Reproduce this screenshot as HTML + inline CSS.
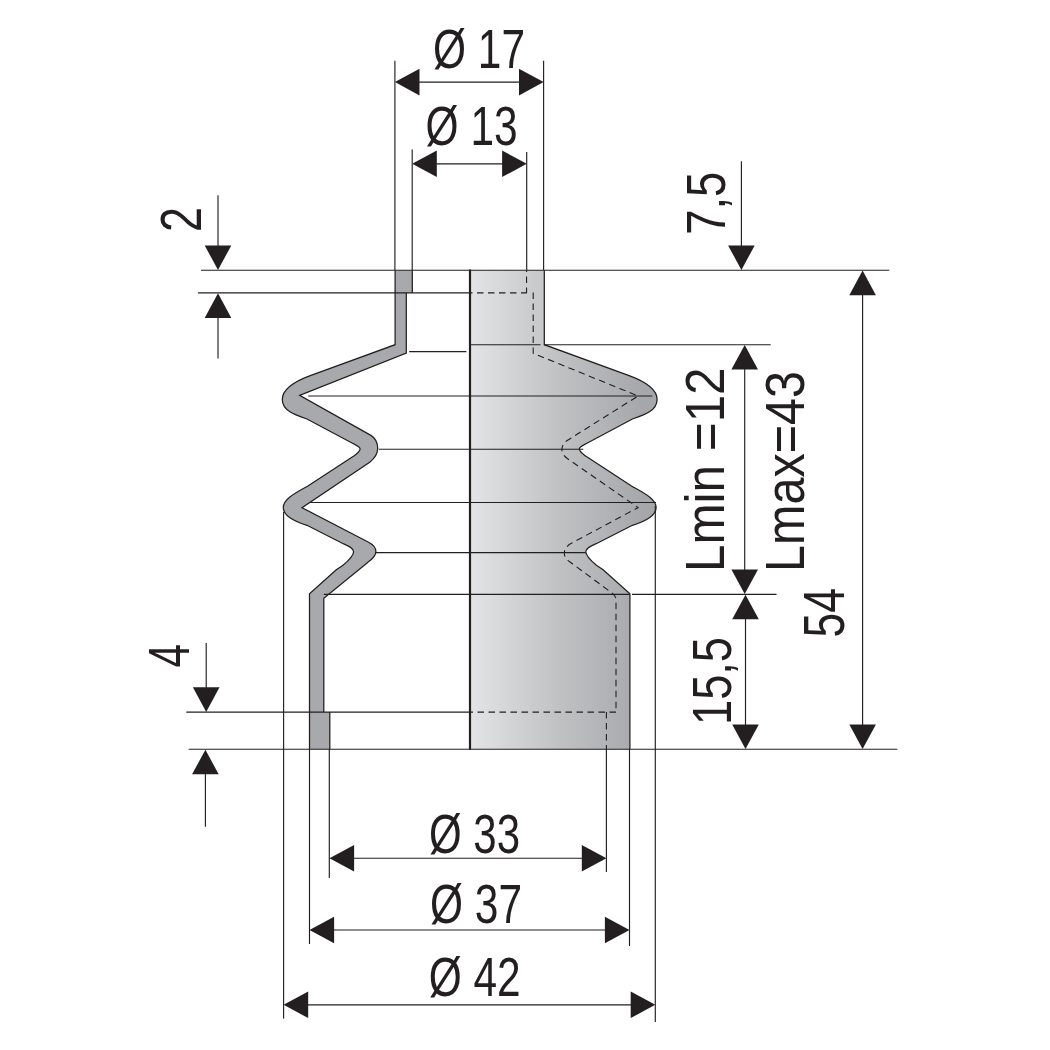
<!DOCTYPE html>
<html><head><meta charset="utf-8"><title>Bellows drawing</title>
<style>html,body{margin:0;padding:0;background:#fff}svg{display:block}text{font-family:"Liberation Sans",sans-serif}</style>
</head><body>
<svg width="1050" height="1050" viewBox="0 0 1050 1050">
<rect width="1050" height="1050" fill="#fff"/>
<defs>
<linearGradient id="gm" gradientUnits="userSpaceOnUse" x1="469.7" y1="0" x2="296" y2="0">
<stop offset="0" stop-color="#e3e4e5"/><stop offset="0.5" stop-color="#c1c2c4"/><stop offset="1" stop-color="#a5a7aa"/></linearGradient>
<path id="ah" d="M0,0 L24.6,-13.3 L24.6,13.3 Z"/>
</defs>
<g transform="translate(939.40,0) scale(-1,1)"><path d=" M395.1,270.2 L395.1,344.7 L310.3,375.6 C297,380.5 282.3,388 282.3,399.4 C282.3,411 296,415.2 307,419 L352,443 C357,445.6 360.1,446.6 360.1,448.9 C360.1,451.4 357.6,453.2 353,456.6 L308.3,485.7 C297,492.3 283.3,498.5 283.3,507.5 C283.3,516 294,521.3 307,525.3 L340.3,542.3 C346,545 353.6,547.2 353.6,551.7 C353.6,556 349,560.2 343,565.3 L336,570 L309.5,593.8 L309.5,749.2  L469.7,749.2 L469.7,270.2 Z" fill="url(#gm)" stroke="none"/><path d=" M395.1,270.2 L395.1,344.7 L310.3,375.6 C297,380.5 282.3,388 282.3,399.4 C282.3,411 296,415.2 307,419 L352,443 C357,445.6 360.1,446.6 360.1,448.9 C360.1,451.4 357.6,453.2 353,456.6 L308.3,485.7 C297,492.3 283.3,498.5 283.3,507.5 C283.3,516 294,521.3 307,525.3 L340.3,542.3 C346,545 353.6,547.2 353.6,551.7 C353.6,556 349,560.2 343,565.3 L336,570 L309.5,593.8 L309.5,749.2 " fill="none" stroke="#231f20" stroke-width="1.25" stroke-linejoin="miter"/></g>
<path d=" M395.1,270.2 L395.1,344.7 L310.3,375.6 C297,380.5 282.3,388 282.3,399.4 C282.3,411 296,415.2 307,419 L352,443 C357,445.6 360.1,446.6 360.1,448.9 C360.1,451.4 357.6,453.2 353,456.6 L308.3,485.7 C297,492.3 283.3,498.5 283.3,507.5 C283.3,516 294,521.3 307,525.3 L340.3,542.3 C346,545 353.6,547.2 353.6,551.7 C353.6,556 349,560.2 343,565.3 L336,570 L309.5,593.8 L309.5,749.2  L329.8,749.2 L329.8,712.1 L323.8,712.1 L323.8,598.2 L367.7,562.4 C371.5,559.5 375.9,556.5 375.9,551.7 C375.9,547 372.5,544.3 368.6,542.3 L302,507.7 L369.7,462.3 C374.3,458.6 377.7,454.5 377.7,448.6 C377.7,442.5 375.2,438 370.9,435.4 L299.6,395.3 L406.3,353 L406.3,292.9 L412.3,292.9 L412.3,270.2 Z " fill="#a7a9ac" stroke="none"/>
<path d=" M395.1,270.2 L395.1,344.7 L310.3,375.6 C297,380.5 282.3,388 282.3,399.4 C282.3,411 296,415.2 307,419 L352,443 C357,445.6 360.1,446.6 360.1,448.9 C360.1,451.4 357.6,453.2 353,456.6 L308.3,485.7 C297,492.3 283.3,498.5 283.3,507.5 C283.3,516 294,521.3 307,525.3 L340.3,542.3 C346,545 353.6,547.2 353.6,551.7 C353.6,556 349,560.2 343,565.3 L336,570 L309.5,593.8 L309.5,749.2   M329.8,749.2 L329.8,712.1 M323.8,712.1 L323.8,598.2 L367.7,562.4 C371.5,559.5 375.9,556.5 375.9,551.7 C375.9,547 372.5,544.3 368.6,542.3 L302,507.7 L369.7,462.3 C374.3,458.6 377.7,454.5 377.7,448.6 C377.7,442.5 375.2,438 370.9,435.4 L299.6,395.3 L406.3,353 L406.3,292.9 M412.3,292.9 L412.3,270.2 " fill="none" stroke="#231f20" stroke-width="1.25" stroke-linejoin="miter"/>
<g fill="none" stroke="#231f20" stroke-width="1.1" stroke-dasharray="6.5,4.5"><path d="M526.55,292.9 V270.2" stroke-dashoffset="1.2"/><path d="M526.7,292.9 H469.9" stroke-dashoffset="0.8"/><path d="M533.2,292.4 L533.2,353.3 L638.1,396 L568,440 Q561.9,444 561.9,449.5 Q561.9,455 568,459 L638.1,507.6 L570,544 Q564.3,548 564.3,553.3 Q564.3,558 570,562 L612,593 Q616,596 616,600 L616,712.1"/><path d="M616,712.1 H469.9"/><path d="M606.4,712.1 V749"/></g>
<path d="M201,270.2 H889.3" stroke="#231f20" stroke-width="1.15" fill="none"/>
<path d="M197.9,292.9 H469.9" stroke="#231f20" stroke-width="1.15" fill="none"/>
<path d="M409.2,351.6 H466.4" stroke="#231f20" stroke-width="1.15" fill="none"/>
<path d="M469.9,344.7 H540.5" stroke="#231f20" stroke-width="1.15" fill="none"/>
<path d="M544.3,344.7 H770.7" stroke="#231f20" stroke-width="1.15" fill="none"/>
<path d="M308.2,396 H652.4" stroke="#231f20" stroke-width="1.15" fill="none"/>
<path d="M378.9,449.2 H583.3" stroke="#231f20" stroke-width="1.15" fill="none"/>
<path d="M310.3,502.5 H656" stroke="#231f20" stroke-width="1.15" fill="none"/>
<path d="M375.2,552.6 H585.7" stroke="#231f20" stroke-width="1.15" fill="none"/>
<path d="M323.9,594.3 H629.8" stroke="#231f20" stroke-width="1.15" fill="none"/>
<path d="M632,594.3 H776.5" stroke="#231f20" stroke-width="1.15" fill="none"/>
<path d="M186.3,712.1 H469.9" stroke="#231f20" stroke-width="1.15" fill="none"/>
<path d="M188.7,749.2 H897.3" stroke="#231f20" stroke-width="1.15" fill="none"/>
<path d="M470.0,269.6 V749.8" stroke="#231f20" stroke-width="2.2" fill="none"/>
<path d="M394.9,60.7 V270" stroke="#231f20" stroke-width="1.15" fill="none"/>
<path d="M543.6,60.7 V270" stroke="#231f20" stroke-width="1.15" fill="none"/>
<path d="M412.2,149.5 V270" stroke="#231f20" stroke-width="1.15" fill="none"/>
<path d="M526.7,152 V270" stroke="#231f20" stroke-width="1.15" fill="none"/>
<path d="M283.6,511.9 V1018.6" stroke="#231f20" stroke-width="1.15" fill="none"/>
<path d="M655.3,506 V1022" stroke="#231f20" stroke-width="1.15" fill="none"/>
<path d="M309.5,749 V944" stroke="#231f20" stroke-width="1.15" fill="none"/>
<path d="M629.5,749 V946" stroke="#231f20" stroke-width="1.15" fill="none"/>
<path d="M329.3,749 V878" stroke="#231f20" stroke-width="1.15" fill="none"/>
<path d="M606.4,749 V872" stroke="#231f20" stroke-width="1.15" fill="none"/>
<path d="M404.9,82.1 H533.6" stroke="#231f20" stroke-width="1.15" fill="none"/>
<use href="#ah" transform="translate(394.9,82.1)" fill="#231f20"/>
<use href="#ah" transform="translate(543.6,82.1) scale(-1,1)" fill="#231f20"/>
<path d="M422.2,163.8 H516.7" stroke="#231f20" stroke-width="1.15" fill="none"/>
<use href="#ah" transform="translate(412.2,163.8)" fill="#231f20"/>
<use href="#ah" transform="translate(526.7,163.8) scale(-1,1)" fill="#231f20"/>
<path d="M339.5,858.2 H596.4" stroke="#231f20" stroke-width="1.15" fill="none"/>
<use href="#ah" transform="translate(329.5,858.2)" fill="#231f20"/>
<use href="#ah" transform="translate(606.4,858.2) scale(-1,1)" fill="#231f20"/>
<path d="M319.5,930.0 H619.5" stroke="#231f20" stroke-width="1.15" fill="none"/>
<use href="#ah" transform="translate(309.5,930.0)" fill="#231f20"/>
<use href="#ah" transform="translate(629.5,930.0) scale(-1,1)" fill="#231f20"/>
<path d="M293.6,1004.8 H645.3" stroke="#231f20" stroke-width="1.15" fill="none"/>
<use href="#ah" transform="translate(283.6,1004.8)" fill="#231f20"/>
<use href="#ah" transform="translate(655.3,1004.8) scale(-1,1)" fill="#231f20"/>
<path d="M218,195.2 V260" stroke="#231f20" stroke-width="1.15" fill="none"/>
<use href="#ah" transform="translate(218,270) rotate(-90)" fill="#231f20"/>
<use href="#ah" transform="translate(218,293.3) rotate(90)" fill="#231f20"/>
<path d="M218,300 V358.6" stroke="#231f20" stroke-width="1.15" fill="none"/>
<path d="M206.2,642.9 V700" stroke="#231f20" stroke-width="1.15" fill="none"/>
<use href="#ah" transform="translate(206.2,711.9) rotate(-90)" fill="#231f20"/>
<use href="#ah" transform="translate(205.4,749.7) rotate(90)" fill="#231f20"/>
<path d="M205.4,760 V826.8" stroke="#231f20" stroke-width="1.15" fill="none"/>
<path d="M741.4,161.3 V260" stroke="#231f20" stroke-width="1.15" fill="none"/>
<use href="#ah" transform="translate(741.4,270) rotate(-90)" fill="#231f20"/>
<path d="M744.7,355 V585" stroke="#231f20" stroke-width="1.15" fill="none"/>
<use href="#ah" transform="translate(744.7,345) rotate(90)" fill="#231f20"/>
<use href="#ah" transform="translate(744.7,594) rotate(-90)" fill="#231f20"/>
<path d="M745.5,605 V740" stroke="#231f20" stroke-width="1.15" fill="none"/>
<use href="#ah" transform="translate(745.5,594.7) rotate(90)" fill="#231f20"/>
<use href="#ah" transform="translate(745.5,749) rotate(-90)" fill="#231f20"/>
<path d="M862.6,280 V740" stroke="#231f20" stroke-width="1.15" fill="none"/>
<use href="#ah" transform="translate(862.6,270.6) rotate(90)" fill="#231f20"/>
<use href="#ah" transform="translate(862.6,749) rotate(-90)" fill="#231f20"/>
<g fill="#231f20">
<text x="433" y="67.5" font-size="56" textLength="92" lengthAdjust="spacingAndGlyphs">Ø 17</text>
<text x="425.6" y="145" font-size="56" textLength="92" lengthAdjust="spacingAndGlyphs">Ø 13</text>
<text x="429" y="853" font-size="56" textLength="91" lengthAdjust="spacingAndGlyphs">Ø 33</text>
<text x="430" y="923" font-size="56" textLength="92" lengthAdjust="spacingAndGlyphs">Ø 37</text>
<text x="428.7" y="996" font-size="56" textLength="92" lengthAdjust="spacingAndGlyphs">Ø 42</text>
<text transform="translate(200.6,232) rotate(-90)" font-size="57" textLength="25" lengthAdjust="spacingAndGlyphs">2</text>
<text transform="translate(188.8,667.5) rotate(-90)" font-size="57" textLength="23.5" lengthAdjust="spacingAndGlyphs">4</text>
<text transform="translate(724.8,234.8) rotate(-90)" font-size="56" textLength="63" lengthAdjust="spacingAndGlyphs">7,5</text>
<text transform="translate(723.9,572) rotate(-90)" font-size="56" textLength="204.6" lengthAdjust="spacingAndGlyphs">Lmin =12</text>
<text transform="translate(804.45,572) rotate(-90)" font-size="56" textLength="201" lengthAdjust="spacingAndGlyphs">Lmax=43</text>
<text transform="translate(731,725) rotate(-90)" font-size="56" textLength="88" lengthAdjust="spacingAndGlyphs">15,5</text>
<text transform="translate(844,637.4) rotate(-90)" font-size="57" textLength="49.5" lengthAdjust="spacingAndGlyphs">54</text>
</g>
</svg>
</body></html>
